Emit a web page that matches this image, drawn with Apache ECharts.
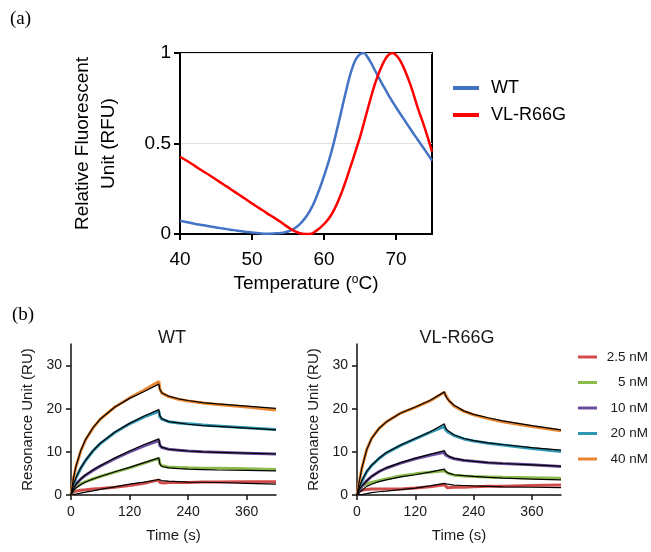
<!DOCTYPE html>
<html><head><meta charset="utf-8">
<script src="https://cdn.jsdelivr.net/npm/echarts@6/dist/echarts.min.js"></script>
<style>html,body{margin:0;padding:0;background:#fff}#c{width:651px;height:552px}</style>
</head><body><div id="c"></div>
<script>
// ---------- Panel (a): thermal shift ----------
const tempC = [40,41,42,43,44,45,46,47,48,49,50,51,52,53,54,55,56,57,58,59,60,61,62,63,
  63.5,64,64.5,65,65.5,66,66.5,67,67.5,68,68.5,69,69.5,70,70.5,71,72,73,74,75];
const rfuWT = [0.073,0.065,0.057,0.05,0.043,0.036,0.03,0.024,0.018,0.013,0.008,0.004,0.002,0.003,0.006,0.014,0.033,0.07,0.125,0.21,0.32,0.45,0.61,0.78,
  0.86,0.925,0.97,0.993,1.0,0.98,0.948,0.91,0.872,0.835,0.8,0.765,0.732,0.70,0.67,0.64,0.58,0.522,0.465,0.405];
const rfuVL = [0.427,0.403,0.378,0.352,0.327,0.301,0.275,0.249,0.222,0.196,0.169,0.143,0.117,0.092,0.066,0.038,0.014,0.002,0.0,0.02,0.055,0.105,0.185,0.29,
  0.35,0.41,0.472,0.535,0.607,0.68,0.752,0.82,0.877,0.925,0.965,0.99,1.0,0.988,0.963,0.925,0.825,0.70,0.585,0.455];
const tempTicks = [40,50,60,70];
const rfuTicks = [0,0.5,1];

// ---------- Panel (b): SPR sensorgrams ----------
const timeS = [0,5,10,20,30,45,60,90,120,150,180,182,186,190,200,220,240,270,300,360,420];
const timeTicks = [0,120,240,360];
const ruTicks = [0,10,20,30];
const concNames = ['2.5 nM','5 nM','10 nM','20 nM','40 nM'];
const concColors = ['#d24b4b','#8cba4a','#6a4e9e','#3097b2','#e8852e'];

// WT measured
const wtData25 = [0,0.7,0.9,1.1,1.2,1.4,1.5,1.8,2.2,2.7,3.5,2.9,2.8,2.8,2.9,2.9,2.9,3.0,3.0,3.1,3.1];
const wtData5  = [0,1.2,1.8,2.6,3.1,3.7,4.3,5.3,6.3,7.4,8.5,7.3,6.8,6.7,6.5,6.4,6.3,6.2,6.2,6.1,5.9];
const wtData10 = [0,1.5,2.5,3.7,4.6,5.7,6.7,8.4,10.0,11.4,12.6,11.5,11.0,10.8,10.6,10.4,10.2,10.0,9.9,9.7,9.5];
const wtData20 = [0,2.3,3.9,6.2,8.0,10.2,11.9,14.5,16.5,18.1,19.4,18.2,17.6,17.3,17.0,16.7,16.5,16.2,16.0,15.6,15.2];
const wtData40 = [0,3.8,6.5,10.2,12.8,15.5,17.6,20.4,22.5,24.3,26.3,24.6,23.6,23.2,22.8,22.2,21.8,21.3,21.0,20.4,19.7];
// WT fits
const wtFit25 = [0,0.1,0.2,0.45,0.65,0.95,1.3,1.9,2.5,3.0,3.6,3.4,3.35,3.3,3.2,3.1,3.0,2.95,2.9,2.7,2.5];
const wtFit5  = [0,1.0,1.6,2.4,3.0,3.7,4.3,5.4,6.4,7.5,8.6,7.2,6.6,6.4,6.3,6.1,6.0,5.9,5.8,5.7,5.6];
const wtFit10 = [0,1.5,2.5,3.7,4.7,5.8,6.8,8.6,10.2,11.7,13.0,11.7,11.1,10.9,10.6,10.4,10.2,10.0,9.9,9.7,9.5];
const wtFit20 = [0,2.4,4.0,6.3,8.1,10.3,12.0,14.6,16.6,18.3,19.8,18.4,17.7,17.4,17.0,16.7,16.4,16.1,15.9,15.5,15.1];
const wtFit40 = [0,3.9,6.6,10.3,12.9,15.6,17.6,20.4,22.4,24.0,25.7,24.5,23.7,23.3,22.9,22.3,21.9,21.4,21.1,20.6,20.1];

// VL-R66G measured
const vlData25 = [0,0.9,1.1,1.3,1.4,1.4,1.4,1.4,1.6,1.9,2.4,2.0,1.7,1.7,1.8,1.8,1.9,2.0,2.0,2.2,2.3];
const vlData5  = [0,1.5,2.0,2.6,2.9,3.3,3.7,4.4,4.9,5.3,5.6,5.3,5.1,4.9,4.6,4.4,4.3,4.2,4.1,4.0,3.9];
const vlData10 = [0,1.2,2.0,3.3,4.3,5.4,6.2,7.4,8.4,9.2,9.9,9.3,9.0,8.8,8.4,8.0,7.8,7.5,7.3,7.0,6.6];
const vlData20 = [0,1.8,3.2,5.4,6.8,8.4,9.7,11.5,13.0,14.5,15.9,15.2,14.7,14.4,13.8,13.0,12.5,12.0,11.6,10.8,10.1];
const vlData40 = [0,3.2,6.2,10.5,13.1,15.4,16.9,19.0,20.3,21.8,23.8,23.2,22.5,21.8,20.6,19.4,18.6,17.7,17.0,15.9,14.9];
// VL-R66G fits
const vlFit25 = [0,0.05,0.1,0.3,0.55,0.75,0.9,1.25,1.6,2.1,2.7,2.6,2.5,2.4,2.3,2.2,2.1,2.0,1.9,1.8,1.7];
const vlFit5  = [0,0.6,1.1,2.0,2.5,3.1,3.5,4.2,4.7,5.3,6.0,5.5,5.2,5.0,4.7,4.5,4.3,4.1,3.9,3.7,3.5];
const vlFit10 = [0,1.3,2.1,3.3,4.3,5.4,6.3,7.5,8.5,9.4,10.3,9.6,9.2,8.9,8.5,8.1,7.8,7.5,7.3,7.0,6.7];
const vlFit20 = [0,1.9,3.3,5.5,6.9,8.5,9.8,11.6,13.1,14.6,16.5,15.6,15.0,14.6,13.9,13.1,12.6,12.1,11.7,11.0,10.4];
const vlFit40 = [0,3.3,6.3,10.5,13.1,15.4,16.9,19.0,20.4,21.9,23.9,23.1,22.3,21.8,20.8,19.5,18.7,17.9,17.2,16.1,15.1];

const wtData = [wtData25,wtData5,wtData10,wtData20,wtData40];
const wtFit  = [wtFit25,wtFit5,wtFit10,wtFit20,wtFit40];
const vlData = [vlData25,vlData5,vlData10,vlData20,vlData40];
const vlFit  = [vlFit25,vlFit5,vlFit10,vlFit20,vlFit40];

const FONT = 'Liberation Sans';
const pairs = (xs, ys) => xs.map((x, i) => [x, ys[i]]);

const chart = echarts.init(document.getElementById('c'));

function sprX(idx) {
  return {
    type: 'value', gridIndex: idx, min: 0, max: 420, interval: 120,
    axisLine: { show: true, lineStyle: { color: '#111', width: 1.5 } },
    axisTick: { show: true, length: 5, lineStyle: { color: '#111', width: 1.5 }, customValues: timeTicks },
    axisLabel: { customValues: timeTicks, fontSize: 14, fontFamily: FONT, color: '#1a1a1a', margin: 10 },
    splitLine: { show: false },
    name: 'Time (s)', nameLocation: 'middle', nameGap: 33,
    nameTextStyle: { fontSize: 15, fontFamily: FONT, color: '#1a1a1a' }
  };
}
function sprY(idx) {
  return {
    type: 'value', gridIndex: idx, min: 0, max: 35, interval: 10,
    axisLine: { show: true, lineStyle: { color: '#111', width: 1.5 } },
    axisTick: { show: true, length: 5, lineStyle: { color: '#111', width: 1.5 }, customValues: ruTicks },
    axisLabel: { customValues: ruTicks, fontSize: 14, fontFamily: FONT, color: '#1a1a1a', margin: 9 },
    splitLine: { show: false },
    name: 'Resonance Unit (RU)', nameLocation: 'middle', nameGap: 36,
    nameTextStyle: { fontSize: 15, fontFamily: FONT, color: '#1a1a1a' }
  };
}

const series = [
  { name: 'WT', type: 'line', xAxisIndex: 0, yAxisIndex: 0, data: pairs(tempC, rfuWT),
    smooth: 0.5, showSymbol: false, color: '#4472c4', lineStyle: { width: 2.5, color: '#4472c4' } },
  { name: 'VL-R66G', type: 'line', xAxisIndex: 0, yAxisIndex: 0, data: pairs(tempC, rfuVL),
    smooth: 0.5, showSymbol: false, color: '#ff0000', lineStyle: { width: 2.5, color: '#ff0000' } }
];
[[wtData, 1], [vlData, 2]].forEach(([set, ax]) => {
  set.forEach((arr, k) => series.push({
    name: concNames[k], type: 'line', xAxisIndex: ax, yAxisIndex: ax, data: pairs(timeS, arr),
    showSymbol: false, color: concColors[k], lineStyle: { width: 3, color: concColors[k] }
  }));
});
[[wtFit, 1], [vlFit, 2]].forEach(([set, ax]) => {
  set.forEach((arr, k) => series.push({
    name: 'fit ' + concNames[k], type: 'line', xAxisIndex: ax, yAxisIndex: ax, data: pairs(timeS, arr),
    showSymbol: false, color: '#000', lineStyle: { width: 1.2, color: '#000' }
  }));
});

chart.setOption({
  animation: false,
  backgroundColor: '#fff',
  grid: [
    { left: 180, top: 53, width: 252, height: 181, show: true, borderColor: '#000', borderWidth: 2, backgroundColor: 'transparent' },
    { left: 71, top: 344, width: 205, height: 151 },
    { left: 357, top: 344, width: 204, height: 151 }
  ],
  xAxis: [
    {
      type: 'value', gridIndex: 0, min: 40, max: 75, interval: 10,
      axisLine: { show: true, lineStyle: { color: '#000', width: 2 } },
      axisTick: { show: true, length: 6, lineStyle: { color: '#000', width: 2 }, customValues: tempTicks },
      axisLabel: { customValues: tempTicks, fontSize: 19, fontFamily: FONT, color: '#000', margin: 16 },
      splitLine: { show: false },
      name: 'Temperature ({s|o}C)', nameLocation: 'middle', nameGap: 40,
      nameTextStyle: { fontSize: 19, fontFamily: FONT, color: '#000',
        rich: { s: { fontSize: 12, fontFamily: FONT, color: '#000', verticalAlign: 'top' } } }
    },
    sprX(1), sprX(2)
  ],
  yAxis: [
    {
      type: 'value', gridIndex: 0, min: 0, max: 1, interval: 0.5,
      axisLine: { show: true, lineStyle: { color: '#000', width: 2 } },
      axisTick: { show: true, length: 6, lineStyle: { color: '#000', width: 2 }, customValues: rfuTicks },
      axisLabel: { customValues: rfuTicks, fontSize: 19, fontFamily: FONT, color: '#000', margin: 9 },
      splitLine: { show: true, lineStyle: { color: '#e3e3e3', width: 1 } },
      name: 'Relative Fluorescent\nUnit (RFU)', nameLocation: 'middle', nameGap: 58,
      nameTextStyle: { fontSize: 19, fontFamily: FONT, color: '#000', lineHeight: 26 }
    },
    sprY(1), sprY(2)
  ],
  legend: [
    { data: ['WT', 'VL-R66G'], orient: 'vertical', left: 453, top: 79, padding: 0, icon: 'rect',
      itemWidth: 26, itemHeight: 4, itemGap: 9,
      formatter: '{a|{name}}',
      textStyle: { rich: { a: { fontSize: 18, fontFamily: FONT, color: '#000', padding: [0, 0, 0, 7] } } } },
    { data: concNames, orient: 'vertical', left: 578, top: 350, padding: 0, icon: 'rect',
      itemWidth: 19, itemHeight: 3, itemGap: 11.5,
      formatter: '{a|{name}}',
      textStyle: { rich: { a: { width: 46, align: 'right', fontSize: 13.5, fontFamily: FONT, color: '#1a1a1a' } } } }
  ],
  graphic: [
    { type: 'text', x: 10, y: 19, style: { text: '(a)', fontFamily: 'Liberation Serif', fontSize: 19, fill: '#000', verticalAlign: 'middle' } },
    { type: 'text', x: 12, y: 315, style: { text: '(b)', fontFamily: 'Liberation Serif', fontSize: 19, fill: '#000', verticalAlign: 'middle' } },
    { type: 'text', x: 172, y: 338, style: { text: 'WT', fontFamily: FONT, fontSize: 18, fill: '#1a1a1a', align: 'center', verticalAlign: 'middle' } },
    { type: 'text', x: 457, y: 338, style: { text: 'VL-R66G', fontFamily: FONT, fontSize: 18, fill: '#1a1a1a', align: 'center', verticalAlign: 'middle' } }
  ],
  series: series
});
</script></body></html>
